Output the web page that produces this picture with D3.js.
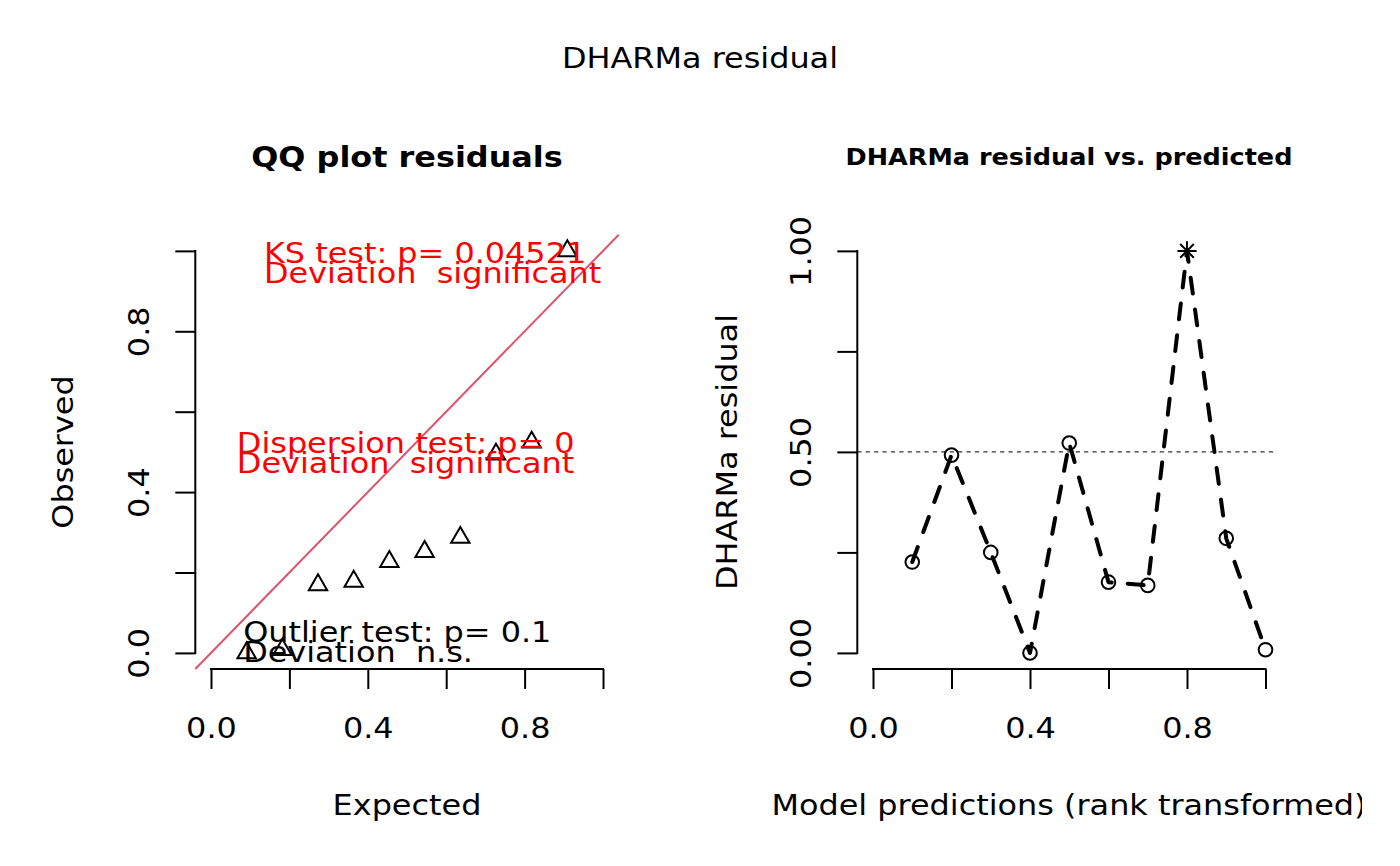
<!DOCTYPE html>
<html>
<head>
<meta charset="utf-8">
<script src="https://cdn.jsdelivr.net/npm/d3@7"></script>
<style>
  body { margin: 0; background: #fff; }
  svg { display: block; }
  text { white-space: pre; }
</style>
</head>
<body>
<svg id="fig" width="1400" height="866"></svg>
<script>
// QQ panel values (expected uniform quantiles vs sorted residuals)
const qqExpected = [0.091, 0.182, 0.273, 0.364, 0.455, 0.545, 0.636, 0.727, 0.818, 0.909];
const qqObserved = [0.0, 0.008, 0.169, 0.178, 0.227, 0.252, 0.287, 0.494, 0.524, 1.0];

// residual vs predicted panel
const rankPred = [0.1, 0.2, 0.3, 0.4, 0.5, 0.6, 0.7, 0.8, 0.9, 1.0];
const residuals = [0.226, 0.492, 0.250, 0.0, 0.522, 0.176, 0.168, 1.0, 0.285, 0.008];
const isOutlier = [false, false, false, false, false, false, false, true, false, false];

const unitTicks = [0, 0.2, 0.4, 0.6, 0.8, 1.0];
const unitTickLabels = ["0.0", "", "0.4", "", "0.8", ""];
const resTicks = [0, 0.25, 0.5, 0.75, 1.0];
const resTickLabels = ["0.00", "", "0.50", "", "1.00"];

const mainTitle = "DHARMa residual";
const qqTitle = "QQ plot residuals";
const resTitle = "DHARMa residual vs. predicted";

// test annotations: [text, x, y (data units), colour]
const qqNotes = [
    ["KS test: p= 0.04521", 0.135, 0.970, "red"],
    ["Deviation  significant", 0.135, 0.919, "red"],
    ["Dispersion test: p= 0", 0.066, 0.497, "red"],
    ["Deviation  significant", 0.066, 0.447, "red"],
    ["Outlier test: p= 0.1", 0.082, 0.027, "black"],
    ["Deviation  n.s.", 0.082, -0.023, "black"]
];

const FONT = "DejaVu Sans";
const STRETCH = 1.10;
const BASE = 29;

const svg = d3.select("#fig");
svg.append("rect").attr("width", 1400).attr("height", 866).attr("fill", "#fff");

svg.append("defs").append("clipPath").attr("id", "figclip")
    .append("rect").attr("x", 0).attr("y", 0).attr("width", 1362).attr("height", 866);

function label(sel, x, y, str, size, opts = {}){
    const rot = opts.rotate ? ` rotate(${opts.rotate})` : "";
    return sel.append("text")
        .attr("transform", `translate(${x},${y})${rot} scale(${STRETCH},1)`)
        .attr("text-anchor", opts.anchor || "middle")
        .attr("font-family", FONT)
        .attr("font-size", size)
        .attr("font-weight", opts.bold ? "bold" : "normal")
        .attr("fill", opts.color || "black")
        .text(str);
}

const plotTop = 234.8, plotBottom = 669;
const lim = [-0.04, 1.04];

function drawAxes(g, x, y, xTicks, xLabels, yTicks, yLabels){
    const xAxis = d3.axisBottom(x).tickValues(xTicks).tickSize(20)
        .tickFormat((d, i) => xLabels[i]);
    const gx = g.append("g").attr("transform", `translate(0,${plotBottom})`).call(xAxis);
    gx.select(".domain").remove();
    gx.selectAll(".tick line").attr("stroke", "#000").attr("stroke-width", 2);
    gx.selectAll(".tick text")
        .attr("y", 69).attr("dy", null)
        .attr("transform", `scale(${STRETCH},1)`)
        .attr("font-family", FONT).attr("font-size", BASE).attr("fill", "#000");
    gx.append("line")
        .attr("x1", x(xTicks[0]) - 1).attr("x2", x(xTicks[xTicks.length - 1]) + 1)
        .attr("stroke", "#000").attr("stroke-width", 2);

    const x0 = x.range()[0];
    const yAxis = d3.axisLeft(y).tickValues(yTicks).tickSize(20)
        .tickFormat((d, i) => yLabels[i]);
    const gy = g.append("g").attr("transform", `translate(${x0},0)`).call(yAxis);
    gy.select(".domain").remove();
    gy.selectAll(".tick line").attr("stroke", "#000").attr("stroke-width", 2);
    gy.selectAll(".tick text")
        .attr("x", null).attr("dy", null)
        .attr("text-anchor", "middle")
        .attr("transform", `translate(-46,0) rotate(-90) scale(${STRETCH},1)`)
        .attr("font-family", FONT).attr("font-size", BASE).attr("fill", "#000");
    gy.append("line")
        .attr("y1", y(yTicks[0]) + 1).attr("y2", y(yTicks[yTicks.length - 1]) - 1)
        .attr("stroke", "#000").attr("stroke-width", 2);
}

// ---------- left: QQ plot ----------
const left = svg.append("g");
const xL = d3.scaleLinear().domain(lim).range([195.3, 618.7]);
const yL = d3.scaleLinear().domain(lim).range([plotBottom, plotTop]);

left.append("line")
    .attr("x1", xL(lim[0])).attr("y1", yL(lim[0]))
    .attr("x2", xL(lim[1])).attr("y2", yL(lim[1]))
    .attr("stroke", "#DF536B").attr("stroke-width", 2);

const triR = 10.6;
left.selectAll("path.tri")
    .data(qqExpected.map((e, i) => ({e, o: qqObserved[i]})))
    .join("path")
    .attr("class", "tri")
    .attr("d", d => {
        const cx = xL(d.e), cy = yL(d.o);
        return `M${cx},${cy - triR}L${cx + triR * 0.866},${cy + triR / 2}L${cx - triR * 0.866},${cy + triR / 2}Z`;
    })
    .attr("fill", "none").attr("stroke", "#000").attr("stroke-width", 2)
    .attr("stroke-linejoin", "miter");

qqNotes.forEach(([t, nx, ny, c]) => {
    label(left, xL(nx), yL(ny), t, BASE, {anchor: "start", color: c});
});

drawAxes(left, xL, yL, unitTicks, unitTickLabels, unitTicks, unitTickLabels);

label(left, 407, 166.5, qqTitle, BASE, {bold: true});
label(left, 407, 814.5, "Expected", BASE);
label(left, 73, 452, "Observed", BASE, {rotate: -90});

// ---------- right: residual vs predicted ----------
const right = svg.append("g");
const xR = d3.scaleLinear().domain(lim).range([857.3, 1281.2]);
const yR = d3.scaleLinear().domain(lim).range([plotBottom, plotTop]);

right.append("line")
    .attr("x1", xR(lim[0])).attr("x2", xR(1.03))
    .attr("y1", yR(0.5)).attr("y2", yR(0.5))
    .attr("stroke", "#333").attr("stroke-width", 1.1)
    .attr("stroke-dasharray", "4.2,4.2");

const pts = rankPred.map((p, i) => ({p, r: residuals[i], out: isOutlier[i]}));

right.append("path")
    .datum(pts)
    .attr("d", d3.line().x(d => xR(d.p)).y(d => yR(d.r)))
    .attr("fill", "none").attr("stroke", "#000").attr("stroke-width", 4)
    .attr("stroke-dasharray", "16,16").attr("stroke-linecap", "round")
    .attr("stroke-linejoin", "round");

right.selectAll("circle.pt")
    .data(pts.filter(d => !d.out))
    .join("circle")
    .attr("class", "pt")
    .attr("cx", d => xR(d.p)).attr("cy", d => yR(d.r)).attr("r", 6.8)
    .attr("fill", "none").attr("stroke", "#000").attr("stroke-width", 2);

const starA = 9.6, starB = 6.8;
right.selectAll("path.star")
    .data(pts.filter(d => d.out))
    .join("path")
    .attr("class", "star")
    .attr("d", d => {
        const cx = xR(d.p), cy = yR(d.r);
        return `M${cx - starA},${cy}H${cx + starA}M${cx},${cy - starA}V${cy + starA}` +
            `M${cx - starB},${cy - starB}L${cx + starB},${cy + starB}M${cx - starB},${cy + starB}L${cx + starB},${cy - starB}`;
    })
    .attr("fill", "none").attr("stroke", "#000").attr("stroke-width", 2);

drawAxes(right, xR, yR, unitTicks, unitTickLabels, resTicks, resTickLabels);

label(right, 1069, 164.5, resTitle, BASE * 0.8, {bold: true});
label(right.append("g").attr("clip-path", "url(#figclip)"), 1069, 814.5, "Model predictions (rank transformed)", BASE);
label(right, 737, 452, "DHARMa residual", BASE, {rotate: -90});

// outer title
label(svg, 700, 68, mainTitle, BASE);
</script>
</body>
</html>
